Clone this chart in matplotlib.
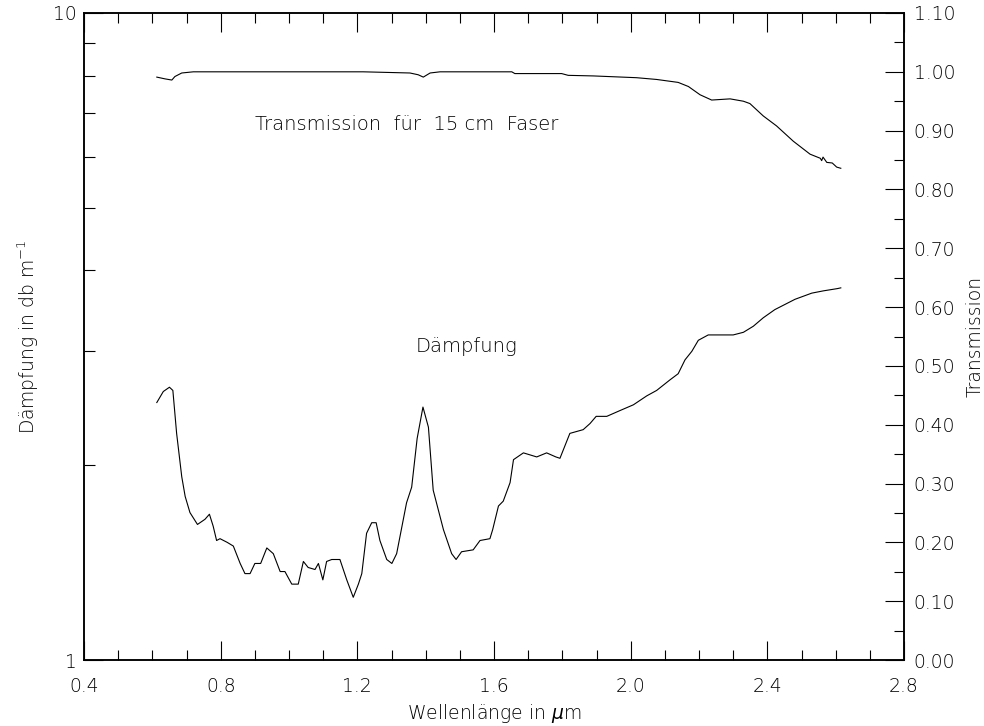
import matplotlib
matplotlib.use('Agg')
import matplotlib.pyplot as plt
from matplotlib.ticker import FixedLocator, NullFormatter, MultipleLocator

plt.rcParams['font.family'] = ['DejaVu Sans']
plt.rcParams['font.weight'] = 200
plt.rcParams['axes.labelweight'] = 200
plt.rcParams['mathtext.fontset'] = 'dejavusans'

# Daempfung (dB/m) vs. Wellenlaenge (um), left log axis
wl_att = [0.613, 0.632, 0.650, 0.660, 0.671, 0.686, 0.696, 0.710, 0.732, 0.754,
          0.767, 0.778, 0.788, 0.798, 0.819, 0.837, 0.857, 0.871, 0.886, 0.900,
          0.917, 0.935, 0.954, 0.974, 0.988, 1.008, 1.027, 1.042, 1.056, 1.076,
          1.086, 1.099, 1.110, 1.125, 1.149, 1.169, 1.188, 1.203, 1.213, 1.227,
          1.242, 1.255, 1.266, 1.286, 1.301, 1.315, 1.344, 1.359, 1.375, 1.392,
          1.408, 1.422, 1.452, 1.476, 1.489, 1.505, 1.539, 1.559, 1.588, 1.596,
          1.613, 1.627, 1.647, 1.657, 1.686, 1.725, 1.754, 1.781, 1.793, 1.822,
          1.861, 1.881, 1.899, 1.930, 1.969, 2.008, 2.047, 2.076, 2.115, 2.139,
          2.159, 2.179, 2.198, 2.227, 2.256, 2.300, 2.330, 2.359, 2.388, 2.422,
          2.481, 2.530, 2.564, 2.605, 2.615]
att = [2.50, 2.60, 2.64, 2.61, 2.24, 1.92, 1.79, 1.69, 1.62, 1.65,
       1.68, 1.61, 1.53, 1.54, 1.52, 1.50, 1.41, 1.36, 1.36, 1.41,
       1.41, 1.49, 1.46, 1.37, 1.37, 1.31, 1.31, 1.42, 1.39, 1.38,
       1.41, 1.33, 1.42, 1.43, 1.43, 1.33, 1.25, 1.31, 1.36, 1.57,
       1.63, 1.63, 1.53, 1.43, 1.41, 1.46, 1.75, 1.85, 2.20, 2.46,
       2.29, 1.83, 1.59, 1.46, 1.43, 1.47, 1.48, 1.53, 1.54, 1.59,
       1.73, 1.76, 1.88, 2.04, 2.09, 2.06, 2.09, 2.06, 2.05, 2.24,
       2.27, 2.32, 2.38, 2.38, 2.43, 2.48, 2.56, 2.61, 2.71, 2.77,
       2.91, 3.00, 3.12, 3.18, 3.18, 3.18, 3.21, 3.28, 3.38, 3.48,
       3.61, 3.69, 3.72, 3.75, 3.76]

# Transmission fuer 15 cm Faser, right linear axis
wl_tr = [0.613, 0.637, 0.657, 0.666, 0.686, 0.720, 0.983, 1.217, 1.354, 1.378,
         1.393, 1.413, 1.442, 1.652, 1.661, 1.798, 1.817, 1.891, 2.017, 2.076,
         2.139, 2.169, 2.203, 2.237, 2.291, 2.330, 2.349, 2.388, 2.427, 2.476,
         2.525, 2.555, 2.559, 2.563, 2.574, 2.590, 2.603, 2.615]
trans = [0.991, 0.988, 0.986, 0.992, 0.998, 1.000, 1.000, 1.000, 0.998, 0.995,
         0.991, 0.998, 1.000, 1.000, 0.997, 0.997, 0.994, 0.993, 0.990, 0.987,
         0.982, 0.975, 0.961, 0.952, 0.954, 0.950, 0.946, 0.925, 0.908, 0.882,
         0.860, 0.853, 0.849, 0.855, 0.846, 0.845, 0.838, 0.836]

fig = plt.figure(figsize=(9.84, 7.26), dpi=100)
ax = fig.add_axes([0.0854, 0.0909, 0.8333, 0.8912])
ax2 = ax.twinx()

ax.plot(wl_att, att, color='black', lw=0.8)
ax2.plot(wl_tr, trans, color='black', lw=0.8)

ax.set_xlim(0.4, 2.8)
ax.set_yscale('log')
ax.set_ylim(1, 10)
ax2.set_ylim(0, 1.1)

fs = 13.5
ax.xaxis.set_minor_locator(MultipleLocator(0.1))
ax.set_xticks([0.4, 0.8, 1.2, 1.6, 2.0, 2.4, 2.8])
ax.set_xticklabels(['0.4', '0.8', '1.2', '1.6', '2.0', '2.4', '2.8'])
ax.yaxis.set_major_locator(FixedLocator([1, 10]))
ax.set_yticklabels(['1', '10'])
ax.yaxis.set_minor_locator(FixedLocator([2, 3, 4, 5, 6, 7, 8, 9]))
ax.yaxis.set_minor_formatter(NullFormatter())

ax2.yaxis.set_minor_locator(MultipleLocator(0.05))
ax2.set_yticks([i / 10 for i in range(12)])
ax2.set_yticklabels(['%.2f' % (i / 10) for i in range(12)])

ax.tick_params(axis='x', which='major', direction='in', length=14, width=0.8,
               top=True, labelsize=fs, pad=12)
ax.tick_params(axis='x', which='minor', direction='in', length=7, width=0.8, top=True)
ax.tick_params(axis='y', which='major', direction='in', length=14, width=0.8,
               labelsize=fs, pad=5)
ax.tick_params(axis='y', which='minor', direction='in', length=8, width=0.8)
ax2.tick_params(axis='y', which='major', direction='in', length=14, width=0.8,
                labelsize=fs, pad=7)
ax2.tick_params(axis='y', which='minor', direction='in', length=7, width=0.8)

for a in (ax, ax2):
    for s in a.spines.values():
        s.set_linewidth(1.1)

ax.set_xlabel('Wellenlänge in $\\mu$m', fontsize=fs, va='center')
ax.set_ylabel('Dämpfung in db m$^{-1}$', fontsize=fs, va='center')
ax2.set_ylabel('Transmission', fontsize=fs, va='center')
ax.xaxis.set_label_coords(0.5, -0.082)
ax.yaxis.set_label_coords(-0.068, 0.5)
ax2.yaxis.set_label_coords(1.087, 0.5)

ax2.text(0.90, 0.91, 'Transmission  für  15 cm  Faser', fontsize=14,
         ha='left', va='center')
ax.text(1.37, 3.05, 'Dämpfung', fontsize=14, ha='left', va='center')

fig.savefig('out.png', dpi=100)
